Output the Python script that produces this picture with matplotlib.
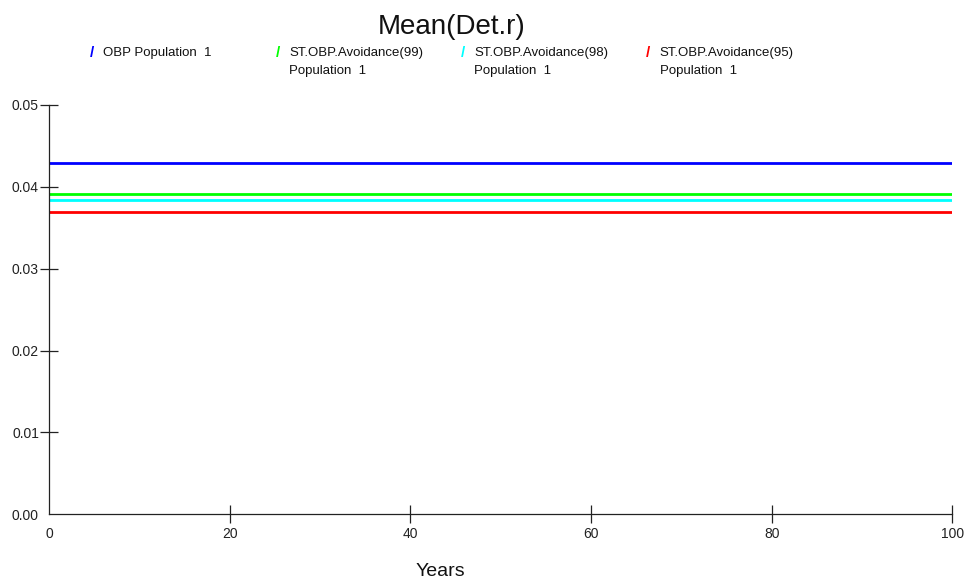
import matplotlib
matplotlib.use('Agg')
import matplotlib.pyplot as plt

plt.rcParams['font.family'] = ['Liberation Sans', 'DejaVu Sans']

years = [0, 100]
series_labels = ['OBP Population  1',
                 'ST.OBP.Avoidance(99)\nPopulation  1',
                 'ST.OBP.Avoidance(98)\nPopulation  1',
                 'ST.OBP.Avoidance(95)\nPopulation  1']
series_values = [0.0429, 0.0391, 0.0384, 0.0369]
series_colors = ['#0000ff', '#00ff00', '#00ffff', '#ff0000']
x_ticks = [0, 20, 40, 60, 80, 100]
y_ticks = [0.00, 0.01, 0.02, 0.03, 0.04, 0.05]

W, H = 966, 583
fig = plt.figure(figsize=(W / 100, H / 100), dpi=100)
ax = fig.add_axes([49 / W, 1 - 514.3 / H, (952.3 - 49) / W, (514.3 - 105) / H])

for val, col in zip(series_values, series_colors):
    ax.plot(years, [val, val], color=col, lw=2.0, solid_capstyle='butt')

ax.set_xlim(0, 100)
ax.set_ylim(0, 0.05)
ax.set_xticks(x_ticks)
ax.set_yticks(y_ticks)
ax.set_xticklabels([str(t) for t in x_ticks])
ax.set_yticklabels(['%.2f' % t for t in y_ticks])
for s in ['top', 'right']:
    ax.spines[s].set_visible(False)
for s in ['left', 'bottom']:
    ax.spines[s].set_color('#222222')
    ax.spines[s].set_linewidth(0.9)
ax.tick_params(direction='inout', length=13.5, width=0.9, color='#222222',
               labelsize=10, labelcolor='#222222')
ax.tick_params(axis='y', pad=0.5)
ax.tick_params(axis='x', pad=2.5)
ax.xaxis.get_major_ticks()[0].tick1line.set_visible(False)
ax.yaxis.get_major_ticks()[0].tick1line.set_visible(False)

fig.text(452 / W, 1 - 34 / H, 'Mean(Det.r)', fontsize=20, ha='center',
         va='baseline', color='#111111')
fig.text(440 / W, 1 - 575.7 / H, 'Years', fontsize=14, ha='center',
         va='baseline', color='#111111')

# legend: coloured slash then one or two text lines
slash_x = [91.7, 277.7, 463, 648]
for lab, col, sx in zip(series_labels, series_colors, slash_x):
    fig.text(sx / W, 1 - 53 / H, '/', color=col, fontsize=11,
             fontweight='bold', ha='center', va='center')
    for i, line in enumerate(lab.split('\n')):
        fig.text((sx + 11.5) / W, 1 - (53 + 17.7 * i) / H, line,
                 fontsize=9.5, ha='left', va='center', color='#111111')

fig.savefig('out.png', dpi=100)
